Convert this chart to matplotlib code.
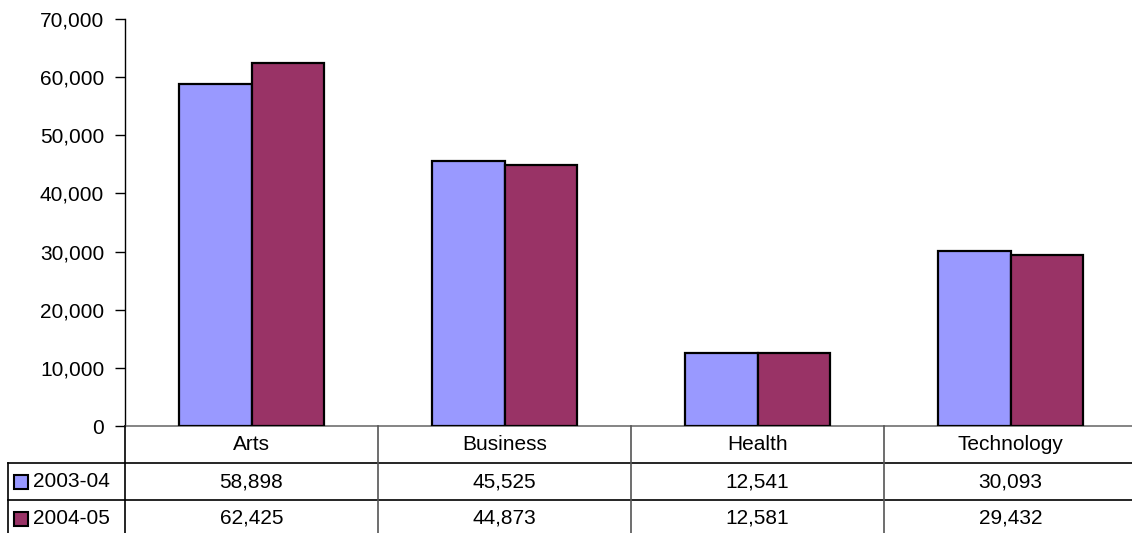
import matplotlib
matplotlib.use('Agg')
import matplotlib.pyplot as plt
from matplotlib.lines import Line2D
from matplotlib.patches import Rectangle
from matplotlib.ticker import FuncFormatter
from matplotlib.transforms import blended_transform_factory

categories = ['Arts', 'Business', 'Health', 'Technology']
series_names = ['2003-04', '2004-05']
values_0304 = [58898, 45525, 12541, 30093]
values_0405 = [62425, 44873, 12581, 29432]
colors = ['#9999FF', '#993366']

W, H = 1132, 533
plt.rcParams['font.family'] = ['Liberation Sans', 'DejaVu Sans']

fig = plt.figure(figsize=(W / 100, H / 100), dpi=100)
# axes spans past the right edge, like the original (cut off)
ax = fig.add_axes([125 / W, 1 - 426 / H, (1137 - 125) / W, (426 - 19) / H])

x = list(range(len(categories)))
bw = 0.287
ax.bar([i - bw / 2 for i in x], values_0304, bw, color=colors[0], edgecolor='black', linewidth=1.6, zorder=3)
ax.bar([i + bw / 2 for i in x], values_0405, bw, color=colors[1], edgecolor='black', linewidth=1.6, zorder=3)

ax.set_xlim(-0.5, len(categories) - 0.5)
ax.set_ylim(0, 70000)
ax.set_yticks(range(0, 70001, 10000))
ax.yaxis.set_major_formatter(FuncFormatter(lambda v, p: '{:,.0f}'.format(v)))
ax.tick_params(axis='y', labelsize=15, length=7, width=1, pad=8)
ax.set_xticks([])
for s in ['top', 'right']:
    ax.spines[s].set_visible(False)
ax.spines['left'].set_linewidth(1)
ax.spines['bottom'].set_linewidth(1.2)
ax.spines['bottom'].set_color('#707070')

# data table below the plot
def fy(py):
    return 1 - py / H

tr = blended_transform_factory(ax.transData, fig.transFigure)
row_y = [426, 463, 500, 537]

# horizontal lines
for py in row_y[1:3]:
    fig.add_artist(Line2D([8 / W, 1], [fy(py), fy(py)], color='black', lw=1.2,
                          transform=fig.transFigure))
# left borders
fig.add_artist(Line2D([8 / W, 8 / W], [fy(463), 0], color='black', lw=1.2, transform=fig.transFigure))
fig.add_artist(Line2D([-0.5, -0.5], [fy(426), 0], color='black', lw=1.2, transform=tr))
# column dividers
for i in range(len(categories) - 1):
    fig.add_artist(Line2D([i + 0.5, i + 0.5], [fy(426), 0], color='#555555', lw=1.2, transform=tr))

for i, cat in enumerate(categories):
    fig.text(i, fy(444.5), cat, ha='center', va='center', fontsize=15, transform=tr)
    fig.text(i, fy(481.5), '{:,}'.format(values_0304[i]), ha='center', va='center', fontsize=15, transform=tr)
    fig.text(i, fy(518.5), '{:,}'.format(values_0405[i]), ha='center', va='center', fontsize=15, transform=tr)

# legend keys in the table
for name, col, py in zip(series_names, colors, [481.5, 518.5]):
    fig.add_artist(Rectangle((14 / W, fy(py + 7)), 14 / W, 14 / H, facecolor=col,
                             edgecolor='black', lw=1.5, transform=fig.transFigure))
    fig.text(33 / W, fy(py), name, ha='left', va='center', fontsize=15)

fig.savefig('out.png', dpi=100)
